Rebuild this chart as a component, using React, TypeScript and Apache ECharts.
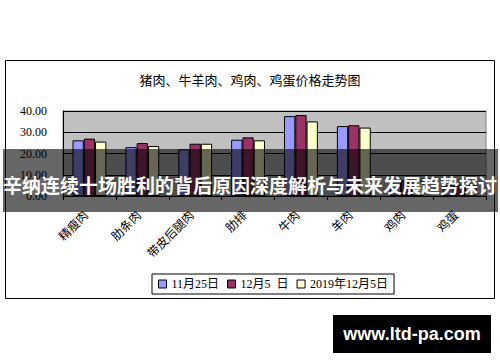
import React, { useEffect, useRef } from "react";
import * as echarts from "echarts";

const categories = ["精瘦肉", "肋条肉", "带皮后腿肉", "肋排", "牛肉", "羊肉", "鸡肉", "鸡蛋"];
const seriesNames = ["11月25日", "12月5  日", "2019年12月5日"];
const nov25 = [26.2, 23.0, 22.0, 26.5, 37.6, 32.9, 7.0, 5.0];
const dec5 = [27.0, 24.9, 24.6, 27.6, 38.1, 33.3, 7.4, 5.3];
const dec5_2019 = [25.6, 23.5, 24.6, 26.2, 35.1, 32.2, 7.2, 5.0];
const yTicks = { min: 0, max: 40, interval: 10 };
const titleText = "猪肉、牛羊肉、鸡肉、鸡蛋价格走势图";
const bannerText = "辛纳连续十场胜利的背后原因深度解析与未来发展趋势探讨";
const watermarkText = "www.ltd-pa.com";

const colors = ["#9999FF", "#993366", "#FFFFCC"];
const mixedFont = "'Liberation Serif', 'Noto Sans CJK SC', serif";

export default function App() {
  const ref = useRef<HTMLDivElement>(null);
  useEffect(() => {
    if (!ref.current) return;
    const chart = echarts.init(ref.current, undefined, { renderer: "svg" });
    const data = [nov25, dec5, dec5_2019];
    chart.setOption({
      animation: false,
      backgroundColor: "#ffffff",
      title: {
        text: titleText,
        left: "center",
        top: 68,
        textStyle: { fontSize: 13, fontWeight: "normal", color: "#000", fontFamily: "Noto Sans CJK SC" },
      },
      legend: {
        left: 152,
        top: 274,
        data: seriesNames,
        icon: "rect",
        itemWidth: 8,
        itemHeight: 8,
        itemGap: 8,
        padding: [4, 6],
        borderColor: "#000",
        borderWidth: 1,
        itemStyle: { borderColor: "#000", borderWidth: 1 },
        textStyle: { fontSize: 12, color: "#000", fontFamily: mixedFont },
      },
      grid: {
        left: 63,
        top: 111,
        width: 423,
        height: 85,
        show: true,
        backgroundColor: "#C0C0C0",
        borderColor: "#808080",
        borderWidth: 1,
        containLabel: false,
      },
      xAxis: {
        type: "category",
        data: categories,
        axisLine: { lineStyle: { color: "#000" } },
        axisTick: { show: true, length: 4, lineStyle: { color: "#000" } },
        axisLabel: {
          rotate: 45,
          margin: 12,
          padding: [0, 6, 0, 0],
          fontSize: 12,
          color: "#000",
          fontFamily: "Noto Sans CJK SC",
        },
      },
      yAxis: {
        type: "value",
        min: yTicks.min,
        max: yTicks.max,
        interval: yTicks.interval,
        axisLine: { show: true, lineStyle: { color: "#000" } },
        axisTick: { show: false },
        splitLine: { lineStyle: { color: "#000", width: 1 } },
        axisLabel: {
          formatter: (v: number) => v.toFixed(2),
          fontSize: 12,
          margin: 16,
          color: "#000",
          fontFamily: "Liberation Serif",
        },
      },
      series: seriesNames.map((name, i) => ({
        name,
        type: "bar",
        data: data[i],
        barGap: "0%",
        barCategoryGap: "36%",
        itemStyle: { color: colors[i], borderColor: "#000", borderWidth: 1 },
      })),
      graphic: [
        {
          type: "rect",
          shape: { x: 5.5, y: 60.5, width: 489, height: 238 },
          style: { fill: "none", stroke: "#000", lineWidth: 1 },
          z: 0,
        },
        {
          type: "rect",
          shape: { x: 3, y: 149, width: 495, height: 63 },
          style: { fill: "rgba(0,0,0,0.6)" },
          z: 100,
        },
        {
          type: "text",
          x: 250,
          y: 184,
          style: {
            text: bannerText,
            fill: "#fff",
            font: "bold 19px 'Noto Sans CJK SC'",
            align: "center",
            verticalAlign: "middle",
          },
          z: 101,
        },
        {
          type: "rect",
          shape: { x: 333, y: 315, width: 158, height: 38 },
          style: { fill: "#000" },
          z: 100,
        },
        {
          type: "text",
          x: 412,
          y: 334,
          style: {
            text: watermarkText,
            fill: "#fff",
            font: "bold 18px 'Liberation Sans'",
            align: "center",
            verticalAlign: "middle",
          },
          z: 101,
        },
      ],
    });
    return () => chart.dispose();
  }, []);
  return (
    <div
      ref={ref}
      style={{ position: "absolute", left: 0, top: 0, width: 500, height: 362, background: "#fff" }}
    />
  );
}
